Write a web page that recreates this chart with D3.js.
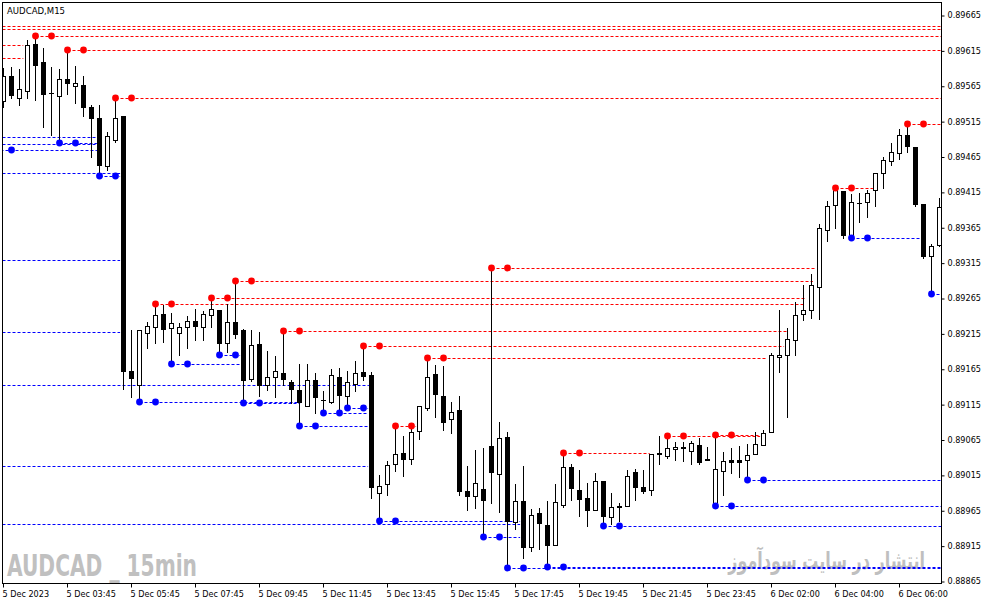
<!DOCTYPE html>
<html>
<head>
<meta charset="utf-8">
<script src="https://cdn.jsdelivr.net/npm/d3@7"></script>
<style>
html, body { margin: 0; padding: 0; background: #fff; }
svg { display: block; }
.ax text { font-family: "DejaVu Sans Condensed", "DejaVu Sans", sans-serif; font-stretch: condensed; font-size: 9px; fill: #000; }
.ax line { stroke: #000; }
</style>
</head>
<body>
<div id="chart"></div>
<script>
(function(){

// AUDCAD M15 bars, oldest first
var open = [0.89544,0.89579,0.89547,0.89558,0.89624,0.89599,0.89555,0.89551,0.89574,0.89565,
	0.89566,0.89535,0.89520,0.89452,0.89489,0.89522,0.89162,0.89142,0.89215,0.89224,
	0.89242,0.89222,0.89216,0.89224,0.89233,0.89224,0.89241,0.89248,0.89202,0.89231,
	0.89220,0.89150,0.89200,0.89142,0.89154,0.89159,0.89146,0.89135,0.89113,0.89149,
	0.89121,0.89118,0.89154,0.89127,0.89144,0.89160,0.89156,0.88989,0.89002,0.89030,
	0.89046,0.89037,0.89077,0.89110,0.89157,0.89126,0.89094,0.89106,0.88992,0.88985,
	0.88995,0.89056,0.89016,0.89069,0.88949,0.88978,0.88913,0.88961,0.88944,0.88916,
	0.88973,0.89026,0.88993,0.88982,0.88966,0.89007,0.88955,0.88970,0.88971,0.89019,
	0.88998,0.88993,0.89045,0.89042,0.89052,0.89055,0.89049,0.89057,0.89036,0.88972,
	0.89021,0.89036,0.89036,0.89036,0.89044,0.89057,0.89075,0.89181,0.89184,0.89206,
	0.89242,0.89248,0.89281,0.89361,0.89396,0.89416,0.89351,0.89399,0.89400,0.89417,
	0.89441,0.89458,0.89470,0.89496,0.89478,0.89398,0.89325,0.89340];

var high = [0.89590,0.89592,0.89589,0.89630,0.89635,0.89619,0.89591,0.89589,0.89616,0.89593,
	0.89579,0.89538,0.89538,0.89499,0.89547,0.89522,0.89220,0.89220,0.89231,0.89258,
	0.89255,0.89244,0.89230,0.89239,0.89250,0.89247,0.89265,0.89248,0.89257,0.89289,
	0.89221,0.89220,0.89217,0.89190,0.89183,0.89220,0.89149,0.89172,0.89172,0.89159,
	0.89134,0.89165,0.89166,0.89162,0.89176,0.89197,0.89161,0.89015,0.89034,0.89084,
	0.89070,0.89084,0.89113,0.89180,0.89170,0.89169,0.89118,0.89126,0.89028,0.89050,
	0.89053,0.89308,0.89090,0.89076,0.89002,0.89028,0.88967,0.88968,0.88978,0.89002,
	0.89046,0.89030,0.89022,0.89003,0.89017,0.89007,0.88990,0.88975,0.89022,0.89023,
	0.89022,0.89045,0.89070,0.89070,0.89062,0.89062,0.89063,0.89067,0.89054,0.89072,
	0.89047,0.89053,0.89056,0.89059,0.89076,0.89079,0.89187,0.89248,0.89222,0.89259,
	0.89283,0.89299,0.89370,0.89402,0.89421,0.89416,0.89412,0.89413,0.89418,0.89441,
	0.89465,0.89484,0.89504,0.89511,0.89478,0.89398,0.89341,0.89406];

var low = [0.89535,0.89547,0.89538,0.89547,0.89545,0.89507,0.89496,0.89484,0.89553,0.89540,
	0.89522,0.89465,0.89438,0.89446,0.89486,0.89137,0.89125,0.89118,0.89194,0.89202,
	0.89203,0.89172,0.89185,0.89195,0.89206,0.89206,0.89224,0.89185,0.89189,0.89208,
	0.89116,0.89148,0.89126,0.89135,0.89125,0.89142,0.89116,0.89084,0.89112,0.89103,
	0.89103,0.89117,0.89103,0.89110,0.89134,0.89149,0.88983,0.88950,0.88987,0.89021,
	0.89014,0.89031,0.89066,0.89106,0.89097,0.89078,0.89074,0.88987,0.88966,0.88968,
	0.88927,0.88975,0.88963,0.88884,0.88938,0.88898,0.88908,0.88910,0.88885,0.88916,
	0.88970,0.88980,0.88957,0.88943,0.88966,0.88943,0.88946,0.88950,0.88971,0.88980,
	0.88990,0.88987,0.89031,0.89039,0.89036,0.89035,0.89031,0.89031,0.89036,0.88971,
	0.88987,0.89017,0.89012,0.89008,0.89044,0.89057,0.89075,0.89161,0.89097,0.89185,
	0.89234,0.89237,0.89235,0.89345,0.89364,0.89350,0.89350,0.89373,0.89380,0.89395,
	0.89421,0.89453,0.89462,0.89472,0.89395,0.89322,0.89271,0.89338];

var close = [0.89579,0.89551,0.89560,0.89623,0.89593,0.89552,0.89554,0.89574,0.89568,0.89569,
	0.89534,0.89518,0.89451,0.89494,0.89520,0.89161,0.89151,0.89220,0.89225,0.89241,
	0.89220,0.89229,0.89224,0.89233,0.89224,0.89242,0.89249,0.89200,0.89231,0.89213,
	0.89148,0.89198,0.89141,0.89154,0.89162,0.89149,0.89135,0.89117,0.89149,0.89124,
	0.89120,0.89156,0.89127,0.89146,0.89159,0.89154,0.88997,0.88999,0.89029,0.89044,
	0.89036,0.89076,0.89113,0.89154,0.89128,0.89089,0.89104,0.88991,0.88984,0.89003,
	0.88978,0.89017,0.89067,0.88949,0.88978,0.88911,0.88958,0.88946,0.88915,0.88976,
	0.89026,0.88995,0.88980,0.88964,0.89007,0.88956,0.88969,0.88971,0.89014,0.88997,
	0.88991,0.89044,0.89046,0.89053,0.89055,0.89051,0.89060,0.89032,0.89038,0.89023,
	0.89034,0.89032,0.89032,0.89043,0.89058,0.89074,0.89185,0.89184,0.89207,0.89241,
	0.89248,0.89283,0.89364,0.89395,0.89418,0.89353,0.89400,0.89398,0.89414,0.89441,
	0.89460,0.89471,0.89496,0.89478,0.89397,0.89323,0.89339,0.89394];

// fractal levels: [price, first bar (null = from off chart), bar where the line stops (null = still open)]
var redLevels = [
	[0.89649,null,null],[0.89645,null,null],[0.89636,4,null],[0.89623,null,2.5],
	[0.89616,8,null],[0.89604,null,2.5],[0.89547,14,null],[0.89257,19,100.2],
	[0.89265,26,100.2],[0.89289,29,101.2],[0.89219,35,98.1],[0.89197,45,97.6],
	[0.89180,53,95.5],[0.89084,49,51.6],[0.89046,70,80.8],[0.89070,83,94.6],
	[0.89072,89,94.6],[0.89421,104,108.7],[0.89511,113,null],[0.89308,61,101.6]
];
var blueLevels = [
	[0.89492,null,11.7],[0.89482,null,11.7],[0.89484,7,11.7],[0.89474,-1,11.7],
	[0.89441,null,14.6],[0.89438,12,14.6],[0.89319,null,14.6],[0.89217,null,14.6],
	[0.89142,null,45.7],[0.89118,17,37.1],[0.89172,21,29.6],[0.89185,27,29.6],
	[0.89116,30,37.1],[0.89084,37,45.6],[0.89103,40,45.6],[0.89110,43,45.6],
	[0.89028,null,45.6],[0.88945,null,64.6],[0.88950,47,64.6],[0.88927,60,64.6],
	[0.88884,63,null],[0.88885,68,null],[0.88943,75,null],[0.88971,89,null],
	[0.89008,93,null],[0.89350,106,114.8],[0.89271,116,null]
];

var priceTicks = [0.89665,0.89615,0.89565,0.89515,0.89465,0.89415,0.89365,0.89315,0.89265,
	0.89215,0.89165,0.89115,0.89065,0.89015,0.88965,0.88915,0.88865];

var timeLabels = ["5 Dec 2023","5 Dec 03:45","5 Dec 05:45","5 Dec 07:45","5 Dec 09:45",
	"5 Dec 11:45","5 Dec 13:45","5 Dec 15:45","5 Dec 17:45","5 Dec 19:45","5 Dec 21:45",
	"5 Dec 23:45","6 Dec 02:00","6 Dec 04:00","6 Dec 06:00"];

var width = 987,
	height = 605,
	pl = 2.5, pt = 2.5, pr = 941.5, pb = 583.5;

var svg = d3.select("#chart").append("svg")
		.attr("width", width)
		.attr("height", height);

svg.append("rect").attr("width", width).attr("height", height).style("fill", "#fff");

svg.append("clipPath").attr("id", "plotclip")
	.append("rect").attr("x", pl).attr("y", pt).attr("width", pr - pl).attr("height", pb - pt);

var X = d3.scaleLinear().domain([0, open.length - 1]).range([3.3, 939.3]);
var Y = d3.scaleLinear().domain([0.88865, 0.89665]).range([581, 15]);

function cx(i){ return Math.floor(X(i)) + 0.5; }
function cy(p){ return Math.round(Y(p)) + 0.5; }

// watermarks sit under everything
svg.append("text")
	.attr("x", 7).attr("y", 576)
	.attr("textLength", 190).attr("lengthAdjust", "spacingAndGlyphs")
	.style("font-family", "'DejaVu Sans Condensed','DejaVu Sans',sans-serif")
	.style("font-stretch", "condensed")
	.style("font-weight", "bold").style("font-size", "31px").style("fill", "#c0c0c0")
	.text("AUDCAD _ 15min");

var fa = svg.append("g").attr("transform", "translate(925,569) scale(0.66,1)");
var faText = fa.append("text")
	.attr("x", 0).attr("y", 0)
	.attr("text-anchor", "end")
	.style("font-family", "'DejaVu Sans',sans-serif")
	.style("font-weight", "bold")
	.style("font-size", "24px").style("fill", "#bfbfbf")
	.text("انتشار در سایت سودآموز");
// squeeze to the width it has in the picture
var faW = faText.node().getComputedTextLength();
if (faW > 0) fa.attr("transform", "translate(925,569) scale(" + (197 / faW) + ",1)");

var plot = svg.append("g").attr("clip-path", "url(#plotclip)");

function levelLines(levels, color){
	plot.append("g").selectAll("line").data(levels).enter().append("line")
		.attr("x1", function(d){ return d[1] === null ? pl : cx(d[1]); })
		.attr("x2", function(d){ return d[2] === null ? pr : X(d[2]); })
		.attr("y1", function(d){ return cy(d[0]); })
		.attr("y2", function(d){ return cy(d[0]); })
		.style("stroke", color)
		.style("stroke-width", 1)
		.style("stroke-dasharray", "3,2");
}
levelLines(redLevels, "#ff0000");
levelLines(blueLevels, "#0000ff");

var bars = d3.range(open.length);

var candle = plot.append("g").selectAll("g").data(bars).enter().append("g");

candle.append("line")
	.attr("x1", cx).attr("x2", cx)
	.attr("y1", function(i){ return Math.round(Y(high[i])); })
	.attr("y2", function(i){ return Math.round(Y(low[i])) + 1; })
	.style("stroke", "#000").style("stroke-width", 1);

candle.filter(function(i){ return close[i] < open[i]; }).append("rect")
	.attr("x", function(i){ return cx(i) - 2.5; })
	.attr("y", function(i){ return Math.round(Y(open[i])); })
	.attr("width", 5)
	.attr("height", function(i){ return Math.max(1, Math.round(Y(close[i])) - Math.round(Y(open[i]))); })
	.style("fill", "#000");

candle.filter(function(i){ return close[i] >= open[i]; }).append("rect")
	.attr("x", function(i){ return cx(i) - 2; })
	.attr("y", function(i){ return cy(close[i]); })
	.attr("width", 4)
	.attr("height", function(i){ return Math.max(0, cy(open[i]) - cy(close[i])); })
	.style("fill", "#fff").style("stroke", "#000").style("stroke-width", 1);

function levelDots(levels, color){
	var pts = [];
	levels.forEach(function(d){
		if (d[1] !== null) { pts.push([d[1], d[0]]); pts.push([d[1] + 2, d[0]]); }
	});
	plot.append("g").selectAll("circle").data(pts).enter().append("circle")
		.attr("cx", function(d){ return cx(d[0]); })
		.attr("cy", function(d){ return cy(d[1]) - 0.5; })
		.attr("r", 3.4)
		.style("fill", color);
}
levelDots(redLevels, "#ff0000");
levelDots(blueLevels, "#0000ff");

// frame and scales
svg.append("rect")
	.attr("x", pl).attr("y", pt).attr("width", pr - pl).attr("height", pb - pt)
	.style("fill", "none").style("stroke", "#000").style("stroke-width", 1);

var yAxis = svg.append("g").attr("class", "ax")
	.attr("transform", "translate(" + pr + ",0)")
	.call(d3.axisRight(Y).tickValues(priceTicks).tickSize(3).tickPadding(3).tickFormat(d3.format(".5f")));
yAxis.select(".domain").remove();
yAxis.selectAll(".tick line").attr("transform", "translate(0,0.5)");

var xAxis = svg.append("g").attr("class", "ax")
	.attr("transform", "translate(0," + pb + ")")
	.call(d3.axisBottom(X).tickValues(d3.range(0, 113, 8)).tickSize(4).tickPadding(3)
		.tickFormat(function(d, i){ return timeLabels[i]; }));
xAxis.select(".domain").remove();
xAxis.selectAll(".tick").attr("transform", function(d){ return "translate(" + cx(d) + ",0)"; });
xAxis.selectAll(".tick text").attr("text-anchor", "start").attr("x", -1);

svg.append("text")
	.attr("x", 7).attr("y", 14)
	.style("font-family", "'DejaVu Sans Condensed','DejaVu Sans',sans-serif")
	.style("font-stretch", "condensed")
	.style("font-size", "9.5px").style("fill", "#000")
	.text("AUDCAD,M15");

})();
</script>
</body>
</html>
